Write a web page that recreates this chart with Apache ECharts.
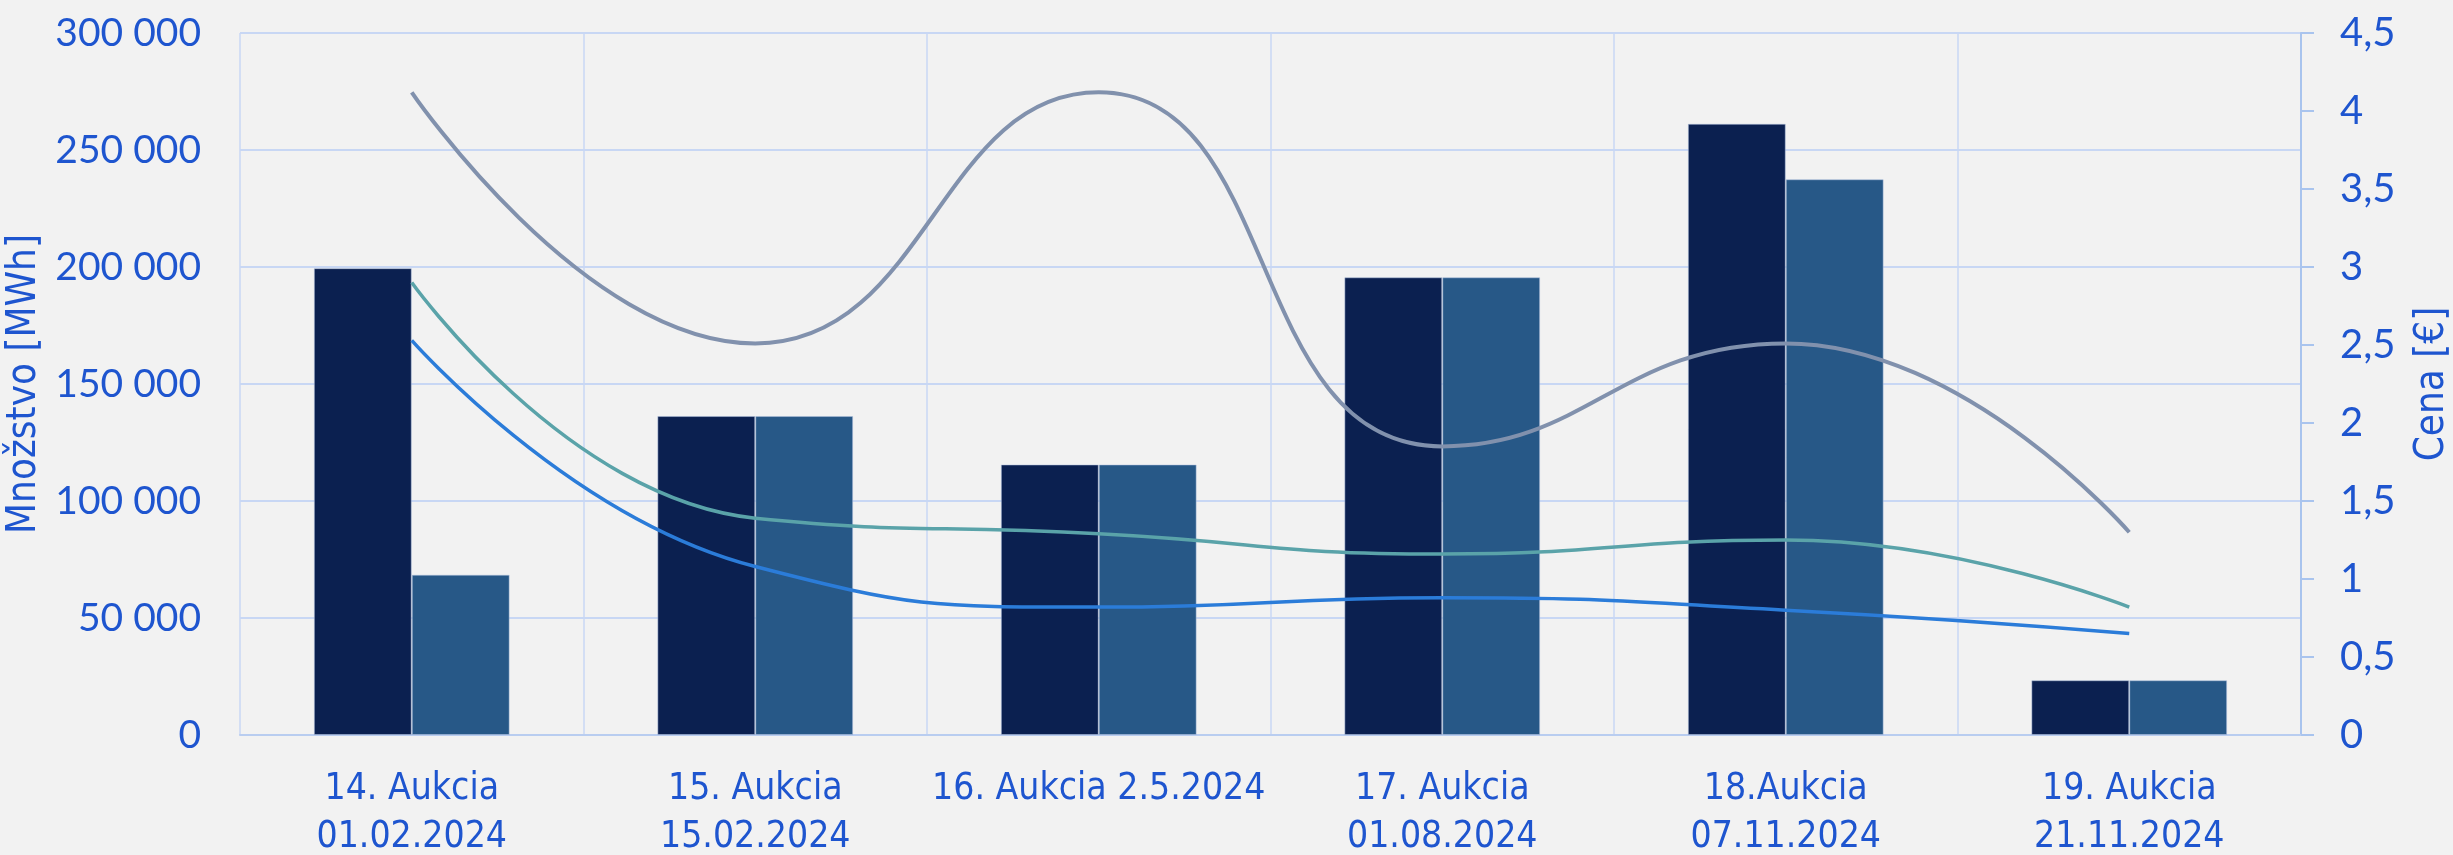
<!DOCTYPE html>
<html>
<head>
<meta charset="utf-8">
<script src="https://cdn.jsdelivr.net/npm/echarts@6/dist/echarts.min.js"></script>
<style>
html,body{margin:0;padding:0;background:#F2F2F2;}
#chart{width:2453px;height:855px;}
</style>
</head>
<body>
<div id="chart"></div>
<script>
const categories = ['14. Aukcia\n01.02.2024','15. Aukcia\n15.02.2024','16. Aukcia 2.5.2024','17. Aukcia\n01.08.2024','18.Aukcia\n07.11.2024','19. Aukcia\n21.11.2024'];
const quantityA = [199500, 136300, 115600, 195600, 261200, 23400];
const quantityB = [68500, 136300, 115600, 195600, 237500, 23400];
const priceGrey = [4.12, 2.51, 4.12, 1.85, 2.51, 1.30];
const priceTeal = [2.90, 1.39, 1.29, 1.16, 1.25, 0.82];
const priceBlue = [2.53, 1.08, 0.82, 0.88, 0.80, 0.65];
const leftTicks = {min: 0, max: 300000, interval: 50000};
const rightTicks = {min: 0, max: 4.5, interval: 0.5};

const txt = '#1E55CF';
const gridCol = '#C8D7F4';
const numFont = "Lato, 'Open Sans', sans-serif";
const condFont = "'DejaVu Sans Condensed', 'Open Sans', sans-serif";

const chart = echarts.init(document.getElementById('chart'), null, {renderer: 'canvas'});
chart.setOption({
  backgroundColor: '#F2F2F2',
  animation: false,
  grid: {left: 240, right: 152, top: 33, bottom: 120, containLabel: false, outerBoundsMode: 'none'},
  xAxis: {
    type: 'category',
    data: categories,
    axisLine: {show: true, lineStyle: {color: '#B9CDF0', width: 2}},
    axisTick: {show: false},
    splitLine: {show: true, lineStyle: {color: gridCol, width: 1.5}},
    axisLabel: {color: txt, fontFamily: condFont, fontSize: 37, lineHeight: 48, margin: 30, interval: 0}
  },
  yAxis: [
    {
      type: 'value', min: leftTicks.min, max: leftTicks.max, interval: leftTicks.interval,
      name: 'Množstvo [MWh]', nameLocation: 'middle', nameGap: 168, nameRotate: 90,
      nameTextStyle: {color: txt, fontFamily: condFont, fontSize: 40},
      axisLine: {show: false}, axisTick: {show: false},
      splitLine: {show: true, lineStyle: {color: gridCol, width: 2}},
      axisLabel: {color: txt, fontFamily: numFont, fontSize: 39, margin: 39,
        formatter: v => String(v).replace(/\B(?=(\d{3})+(?!\d))/g, ' ')}
    },
    {
      type: 'value', min: rightTicks.min, max: rightTicks.max, interval: rightTicks.interval,
      position: 'right',
      name: 'Cena [€]', nameLocation: 'middle', nameGap: 112, nameRotate: 90,
      nameTextStyle: {color: txt, fontFamily: condFont, fontSize: 40},
      axisLine: {show: true, lineStyle: {color: '#A9C4EE', width: 2}},
      axisTick: {show: true, length: 13, lineStyle: {color: '#A9C4EE', width: 2}},
      splitLine: {show: false},
      axisLabel: {color: txt, fontFamily: numFont, fontSize: 40, margin: 39,
        formatter: v => String(v).replace('.', ',')}
    }
  ],
  series: [
    {type: 'bar', data: quantityA, yAxisIndex: 0, barGap: '0%', barCategoryGap: '43%',
      itemStyle: {color: '#0B2050', borderColor: 'rgba(180,195,225,0.5)', borderWidth: 1}},
    {type: 'bar', data: quantityB, yAxisIndex: 0,
      itemStyle: {color: '#275887', borderColor: 'rgba(180,195,225,0.5)', borderWidth: 1}},
    {type: 'line', data: priceGrey, yAxisIndex: 1, smooth: 0.5, showSymbol: false,
      lineStyle: {color: '#8191AD', width: 4}},
    {type: 'line', data: priceTeal, yAxisIndex: 1, smooth: 0.5, showSymbol: false,
      lineStyle: {color: '#5AA3A9', width: 3.5}},
    {type: 'line', data: priceBlue, yAxisIndex: 1, smooth: 0.5, showSymbol: false,
      lineStyle: {color: '#2B7CD9', width: 3.5}}
  ]
});
</script>
</body>
</html>
